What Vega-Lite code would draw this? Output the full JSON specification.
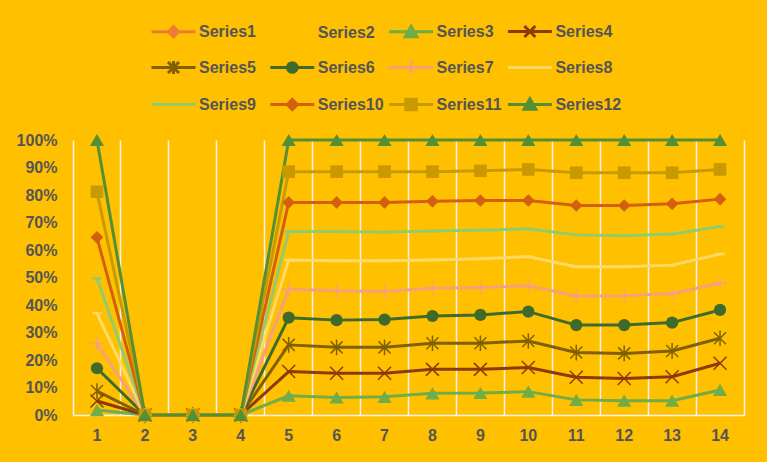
{
  "$schema": "https://vega.github.io/schema/vega-lite/v6.json",
  "width": 671,
  "height": 275,
  "autosize": {"type": "none"},
  "padding": {"left": 73, "top": 140, "right": 23, "bottom": 47},
  "background": "#FFC000",
  "config": {
    "view": {"stroke": null},
    "font": "Liberation Sans",
    "axis": {"labelFont": "Liberation Sans", "labelFontWeight": "bold", "labelFontSize": 16, "labelColor": "#555555"},
    "legend": {"labelFont": "Liberation Sans", "labelFontWeight": "bold", "labelFontSize": 16, "labelColor": "#555555"}
  },
  "data": {
    "values": [
      {"series": "Series3", "x": 1, "v": 0.018}, {"series": "Series3", "x": 2, "v": 0}, {"series": "Series3", "x": 3, "v": 0}, {"series": "Series3", "x": 4, "v": 0}, {"series": "Series3", "x": 5, "v": 0.070}, {"series": "Series3", "x": 6, "v": 0.064}, {"series": "Series3", "x": 7, "v": 0.066}, {"series": "Series3", "x": 8, "v": 0.079}, {"series": "Series3", "x": 9, "v": 0.080}, {"series": "Series3", "x": 10, "v": 0.085}, {"series": "Series3", "x": 11, "v": 0.055}, {"series": "Series3", "x": 12, "v": 0.052}, {"series": "Series3", "x": 13, "v": 0.052}, {"series": "Series3", "x": 14, "v": 0.091},
      {"series": "Series4", "x": 1, "v": 0.051}, {"series": "Series4", "x": 2, "v": 0}, {"series": "Series4", "x": 3, "v": 0}, {"series": "Series4", "x": 4, "v": 0}, {"series": "Series4", "x": 5, "v": 0.158}, {"series": "Series4", "x": 6, "v": 0.152}, {"series": "Series4", "x": 7, "v": 0.152}, {"series": "Series4", "x": 8, "v": 0.166}, {"series": "Series4", "x": 9, "v": 0.166}, {"series": "Series4", "x": 10, "v": 0.173}, {"series": "Series4", "x": 11, "v": 0.137}, {"series": "Series4", "x": 12, "v": 0.133}, {"series": "Series4", "x": 13, "v": 0.139}, {"series": "Series4", "x": 14, "v": 0.188},
      {"series": "Series5", "x": 1, "v": 0.087}, {"series": "Series5", "x": 2, "v": 0}, {"series": "Series5", "x": 3, "v": 0}, {"series": "Series5", "x": 4, "v": 0}, {"series": "Series5", "x": 5, "v": 0.255}, {"series": "Series5", "x": 6, "v": 0.246}, {"series": "Series5", "x": 7, "v": 0.246}, {"series": "Series5", "x": 8, "v": 0.261}, {"series": "Series5", "x": 9, "v": 0.261}, {"series": "Series5", "x": 10, "v": 0.269}, {"series": "Series5", "x": 11, "v": 0.227}, {"series": "Series5", "x": 12, "v": 0.224}, {"series": "Series5", "x": 13, "v": 0.233}, {"series": "Series5", "x": 14, "v": 0.279},
      {"series": "Series6", "x": 1, "v": 0.170}, {"series": "Series6", "x": 2, "v": 0}, {"series": "Series6", "x": 3, "v": 0}, {"series": "Series6", "x": 4, "v": 0}, {"series": "Series6", "x": 5, "v": 0.354}, {"series": "Series6", "x": 6, "v": 0.345}, {"series": "Series6", "x": 7, "v": 0.347}, {"series": "Series6", "x": 8, "v": 0.360}, {"series": "Series6", "x": 9, "v": 0.364}, {"series": "Series6", "x": 10, "v": 0.376}, {"series": "Series6", "x": 11, "v": 0.327}, {"series": "Series6", "x": 12, "v": 0.327}, {"series": "Series6", "x": 13, "v": 0.336}, {"series": "Series6", "x": 14, "v": 0.382},
      {"series": "Series7", "x": 1, "v": 0.260}, {"series": "Series7", "x": 2, "v": 0}, {"series": "Series7", "x": 3, "v": 0}, {"series": "Series7", "x": 4, "v": 0}, {"series": "Series7", "x": 5, "v": 0.457}, {"series": "Series7", "x": 6, "v": 0.452}, {"series": "Series7", "x": 7, "v": 0.449}, {"series": "Series7", "x": 8, "v": 0.461}, {"series": "Series7", "x": 9, "v": 0.464}, {"series": "Series7", "x": 10, "v": 0.470}, {"series": "Series7", "x": 11, "v": 0.433}, {"series": "Series7", "x": 12, "v": 0.434}, {"series": "Series7", "x": 13, "v": 0.442}, {"series": "Series7", "x": 14, "v": 0.479},
      {"series": "Series8", "x": 1, "v": 0.370}, {"series": "Series8", "x": 2, "v": 0}, {"series": "Series8", "x": 3, "v": 0}, {"series": "Series8", "x": 4, "v": 0}, {"series": "Series8", "x": 5, "v": 0.564}, {"series": "Series8", "x": 6, "v": 0.561}, {"series": "Series8", "x": 7, "v": 0.561}, {"series": "Series8", "x": 8, "v": 0.564}, {"series": "Series8", "x": 9, "v": 0.568}, {"series": "Series8", "x": 10, "v": 0.576}, {"series": "Series8", "x": 11, "v": 0.539}, {"series": "Series8", "x": 12, "v": 0.539}, {"series": "Series8", "x": 13, "v": 0.545}, {"series": "Series8", "x": 14, "v": 0.585},
      {"series": "Series9", "x": 1, "v": 0.497}, {"series": "Series9", "x": 2, "v": 0}, {"series": "Series9", "x": 3, "v": 0}, {"series": "Series9", "x": 4, "v": 0}, {"series": "Series9", "x": 5, "v": 0.667}, {"series": "Series9", "x": 6, "v": 0.667}, {"series": "Series9", "x": 7, "v": 0.665}, {"series": "Series9", "x": 8, "v": 0.669}, {"series": "Series9", "x": 9, "v": 0.672}, {"series": "Series9", "x": 10, "v": 0.677}, {"series": "Series9", "x": 11, "v": 0.655}, {"series": "Series9", "x": 12, "v": 0.652}, {"series": "Series9", "x": 13, "v": 0.658}, {"series": "Series9", "x": 14, "v": 0.685},
      {"series": "Series10", "x": 1, "v": 0.646}, {"series": "Series10", "x": 2, "v": 0}, {"series": "Series10", "x": 3, "v": 0}, {"series": "Series10", "x": 4, "v": 0}, {"series": "Series10", "x": 5, "v": 0.773}, {"series": "Series10", "x": 6, "v": 0.773}, {"series": "Series10", "x": 7, "v": 0.773}, {"series": "Series10", "x": 8, "v": 0.777}, {"series": "Series10", "x": 9, "v": 0.780}, {"series": "Series10", "x": 10, "v": 0.780}, {"series": "Series10", "x": 11, "v": 0.762}, {"series": "Series10", "x": 12, "v": 0.762}, {"series": "Series10", "x": 13, "v": 0.768}, {"series": "Series10", "x": 14, "v": 0.785},
      {"series": "Series11", "x": 1, "v": 0.812}, {"series": "Series11", "x": 2, "v": 0}, {"series": "Series11", "x": 3, "v": 0}, {"series": "Series11", "x": 4, "v": 0}, {"series": "Series11", "x": 5, "v": 0.885}, {"series": "Series11", "x": 6, "v": 0.885}, {"series": "Series11", "x": 7, "v": 0.885}, {"series": "Series11", "x": 8, "v": 0.885}, {"series": "Series11", "x": 9, "v": 0.888}, {"series": "Series11", "x": 10, "v": 0.893}, {"series": "Series11", "x": 11, "v": 0.881}, {"series": "Series11", "x": 12, "v": 0.881}, {"series": "Series11", "x": 13, "v": 0.881}, {"series": "Series11", "x": 14, "v": 0.893},
      {"series": "Series12", "x": 1, "v": 1}, {"series": "Series12", "x": 2, "v": 0}, {"series": "Series12", "x": 3, "v": 0}, {"series": "Series12", "x": 4, "v": 0}, {"series": "Series12", "x": 5, "v": 1}, {"series": "Series12", "x": 6, "v": 1}, {"series": "Series12", "x": 7, "v": 1}, {"series": "Series12", "x": 8, "v": 1}, {"series": "Series12", "x": 9, "v": 1}, {"series": "Series12", "x": 10, "v": 1}, {"series": "Series12", "x": 11, "v": 1}, {"series": "Series12", "x": 12, "v": 1}, {"series": "Series12", "x": 13, "v": 1}, {"series": "Series12", "x": 14, "v": 1}
    ]
  },
  "resolve": {"axis": {"y": "independent"}},
  "encoding": {
    "x": {"field": "x", "type": "ordinal", "bandPosition": 0.5,
      "scale": {"type": "band", "paddingInner": 0, "paddingOuter": 0},
      "axis": {"title": null, "bandPosition": 0, "grid": true, "gridColor": "#F2F2F2", "gridWidth": 1.5, "ticks": false, "domain": true, "domainColor": "#F2F2F2", "domainWidth": 1.5, "labelPadding": 12, "labelAngle": 0, "labelAlign": "center"}},
    "y": {"field": "v", "type": "quantitative", "scale": {"domain": [0, 1], "nice": false, "zero": true}, "axis": null},
    "color": {"field": "series", "type": "nominal", "legend": null,
      "scale": {"domain": ["Series1", "Series2", "Series3", "Series4", "Series5", "Series6", "Series7", "Series8", "Series9", "Series10", "Series11", "Series12"],
        "range": ["#ED7D31", "#A5A5A5", "#70AD47", "#8A3B0C", "#806000", "#3E6B2C", "#F4A27A", "#FFD966", "#92CC6A", "#D3600F", "#C99A00", "#548E35"]}}
  },
  "layer": [
    {
      "mark": {"type": "line", "strokeWidth": 3, "strokeJoin": "round"},
      "encoding": {
        "y": {"field": "v", "type": "quantitative",
          "axis": {"title": null, "format": ".0%", "values": [0, 0.1, 0.2, 0.3, 0.4, 0.5, 0.6, 0.7, 0.8, 0.9, 1], "grid": false, "ticks": false, "tickSize": 0, "domain": false, "labelPadding": 16}},
        "color": {"field": "series", "type": "nominal",
          "legend": {
            "title": null, "orient": "none", "legendX": 77, "legendY": -133, "direction": "horizontal", "columns": 4,
            "gridAlign": "all", "columnPadding": -1.2, "rowPadding": -2, "padding": 0,
            "symbolType": "stroke",
            "symbolSize": 1936, "symbolStrokeWidth": 3, "labelOffset": 2,
            "encode": {"symbols": {"update": {
              "shape": {"signal": "datum.value === 'Series2' ? 'M0,0' : datum.value === 'Series1' || datum.value === 'Series10' ? 'M-1,0H1M0,-0.23L0.23,0L0,0.23L-0.23,0Z' : datum.value === 'Series3' || datum.value === 'Series12' ? 'M-1,0H1M0,-0.26L0.27,0.22L-0.27,0.22Z' : datum.value === 'Series4' ? 'M-1,0H1M-0.25,-0.25L0.25,0.25M-0.25,0.25L0.25,-0.25' : datum.value === 'Series5' ? 'M-1,0H1M-0.25,-0.25L0.25,0.25M-0.25,0.25L0.25,-0.25M0,-0.3V0.3' : datum.value === 'Series6' ? 'M-1,0H1M-0.22,0A0.22,0.22 0 1,0 0.22,0A0.22,0.22 0 1,0 -0.22,0Z' : datum.value === 'Series7' ? 'M-1,0H1M0,-0.3V0.3' : datum.value === 'Series11' ? 'M-1,0H1M-0.24,-0.24H0.24V0.24H-0.24Z' : 'M-1,0H1'"},
              "fill": {"scale": "color", "field": "value"},
              "stroke": {"scale": "color", "field": "value"},
              "strokeWidth": {"value": 3}
            }}}
          }}
      }
    },
    {
      "transform": [{"filter": "datum.series === 'Series4'"}],
      "mark": {"type": "point", "filled": false, "strokeWidth": 1.5, "opacity": 1, "shape": "M-1,-1L1,1M-1,1L1,-1", "size": 169}
    },
    {
      "transform": [{"filter": "datum.series === 'Series5'"}],
      "mark": {"type": "point", "filled": false, "strokeWidth": 1.5, "opacity": 1, "shape": "M-1,-1L1,1M-1,1L1,-1M0,-1.3V1.3", "size": 144}
    },
    {
      "transform": [{"filter": "datum.series === 'Series6'"}],
      "mark": {"type": "point", "filled": true, "opacity": 1, "shape": "circle", "size": 150}
    },
    {
      "transform": [{"filter": "datum.series === 'Series7'"}],
      "mark": {"type": "point", "filled": false, "strokeWidth": 1.5, "opacity": 1, "shape": "M-1,0H1M0,-1V1", "size": 196}
    },
    {
      "transform": [{"filter": "datum.series === 'Series8' || datum.series === 'Series9'"}],
      "mark": {"type": "point", "filled": false, "strokeWidth": 2.5, "opacity": 1, "shape": "M-1,0H1", "size": 81}
    },
    {
      "transform": [{"filter": "datum.series === 'Series10'"}],
      "mark": {"type": "point", "filled": true, "opacity": 1, "shape": "diamond", "size": 160}
    },
    {
      "transform": [{"filter": "datum.series === 'Series11'"}],
      "mark": {"type": "point", "filled": true, "opacity": 1, "shape": "square", "size": 160}
    },
    {
      "transform": [{"filter": "datum.series === 'Series3' || datum.series === 'Series12'"}],
      "mark": {"type": "point", "filled": true, "opacity": 1, "shape": "triangle-up", "size": 200},
      "encoding": {
        "y": {"field": "v", "type": "quantitative",
          "axis": {"orient": "right", "title": null, "labels": false, "ticks": false, "grid": false, "domain": true, "domainColor": "#F2F2F2", "domainWidth": 1.5}}
      }
    }
  ]
}
